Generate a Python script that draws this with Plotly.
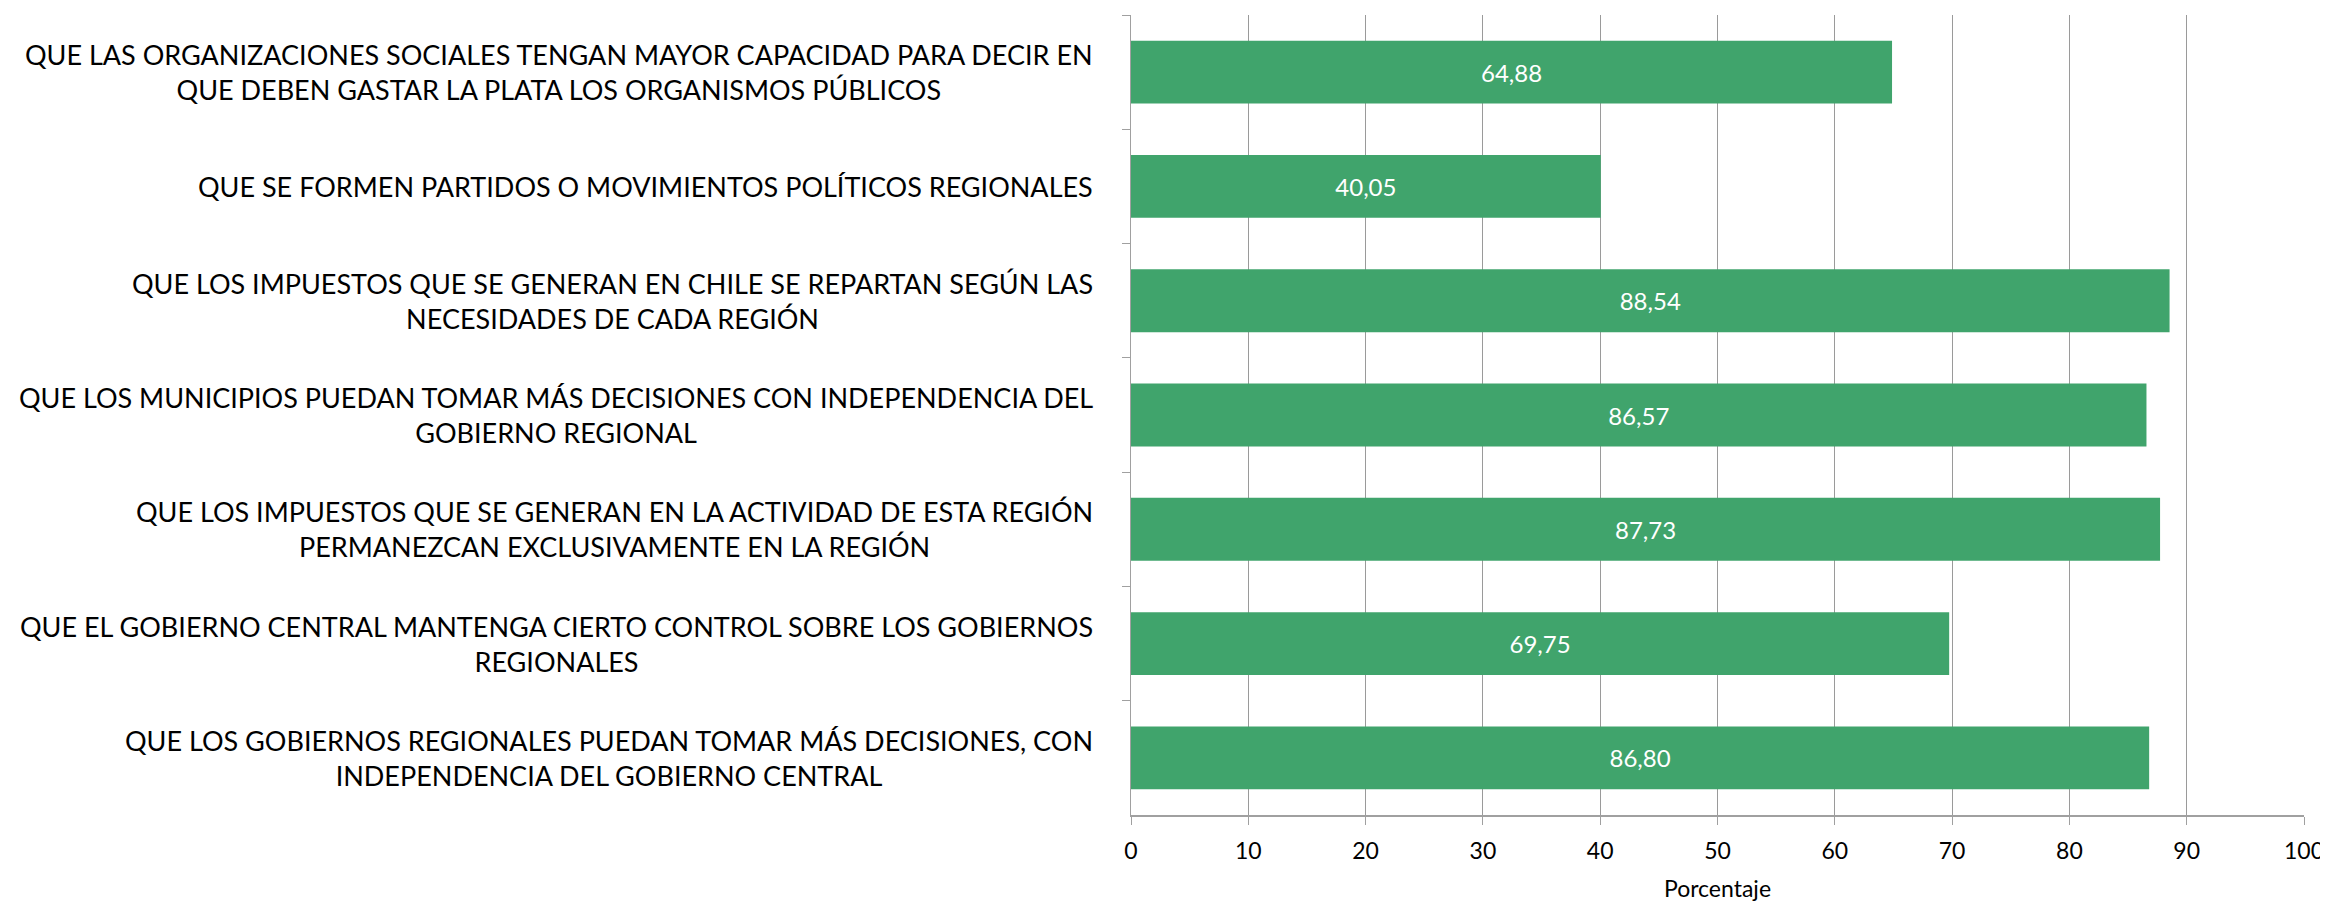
import plotly.graph_objects as go

# categorias de arriba hacia abajo
categorias = [
    'QUE LAS ORGANIZACIONES SOCIALES TENGAN MAYOR CAPACIDAD PARA DECIR EN<br>QUE DEBEN GASTAR LA PLATA LOS ORGANISMOS PÚBLICOS',
    'QUE SE FORMEN PARTIDOS O MOVIMIENTOS POLÍTICOS REGIONALES',
    'QUE LOS IMPUESTOS QUE SE GENERAN EN CHILE SE REPARTAN SEGÚN LAS<br>NECESIDADES DE CADA REGIÓN',
    'QUE LOS MUNICIPIOS PUEDAN TOMAR MÁS DECISIONES CON INDEPENDENCIA DEL<br>GOBIERNO REGIONAL',
    'QUE LOS IMPUESTOS QUE SE GENERAN EN LA ACTIVIDAD DE ESTA REGIÓN<br>PERMANEZCAN EXCLUSIVAMENTE EN LA REGIÓN',
    'QUE EL GOBIERNO CENTRAL MANTENGA CIERTO CONTROL SOBRE LOS GOBIERNOS<br>REGIONALES',
    'QUE LOS GOBIERNOS REGIONALES PUEDAN TOMAR MÁS DECISIONES, CON<br>INDEPENDENCIA DEL GOBIERNO CENTRAL',
]
porcentajes = [64.88, 40.05, 88.54, 86.57, 87.73, 69.75, 86.80]
ticks_x = [0, 10, 20, 30, 40, 50, 60, 70, 80, 90, 100]

FONT = 'Lato, sans-serif'
claves = ['c%d' % i for i in range(len(categorias))]

fig = go.Figure()
fig.add_bar(
    x=porcentajes, y=claves, orientation='h',
    marker=dict(color='#40a46c', line=dict(width=0)),
    texttemplate='%{x:.2f}', textposition='inside', insidetextanchor='middle',
    textfont=dict(color='white', size=24, family=FONT),
)

for c, t in zip(claves, categorias):
    fig.add_annotation(
        x=-0.031, xref='paper', y=c, yref='y', text=t, showarrow=False,
        xanchor='right', yanchor='middle', align='center',
        font=dict(size=27, color='black', family=FONT),
    )

# la pagina deja 8px de margen en el body
fig.update_layout(
    width=2320, height=894,
    margin=dict(l=1123, r=24, t=7, b=87),
    plot_bgcolor='white', paper_bgcolor='white',
    separators=',.',
    bargap=0.45,
    showlegend=False,
    font=dict(family=FONT, color='black'),
)
fig.update_xaxes(
    range=[0, 100], tickvals=ticks_x, showgrid=True, gridcolor='#9a9a9a', gridwidth=1,
    showline=True, linecolor='#a0a0a0', linewidth=2, ticks='outside', ticklen=8,
    tickcolor='#a0a0a0', tickfont=dict(size=23), zeroline=False,
    ticklabelstandoff=6, ticklabeloverflow='allow', automargin=False,
    title=dict(text='Porcentaje', font=dict(size=23), standoff=21),
)
fig.update_yaxes(
    categoryorder='array', categoryarray=claves, autorange='reversed',
    showticklabels=False, showline=True, linecolor='#a0a0a0', linewidth=1,
    ticks='outside', ticklen=8, tickcolor='#a0a0a0', tickson='boundaries',
    showgrid=False,
)

fig.write_html('out.html')
